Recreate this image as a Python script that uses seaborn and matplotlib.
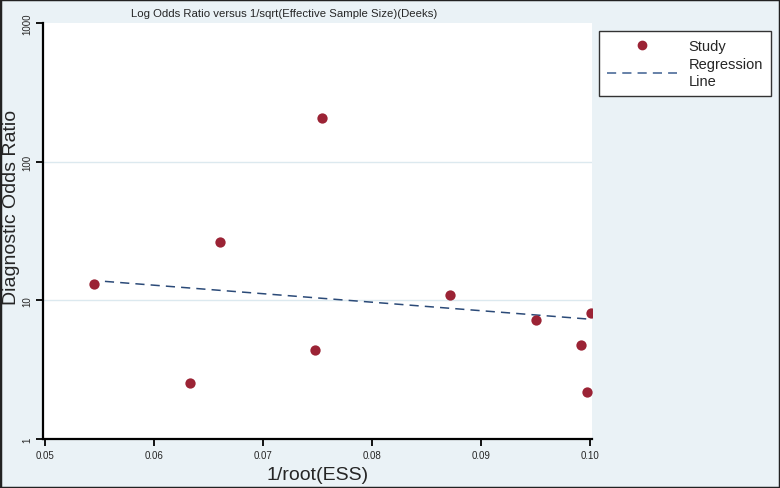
import matplotlib
matplotlib.use("Agg")
import matplotlib.pyplot as plt
import seaborn as sns
import pandas as pd
from matplotlib.patches import Rectangle
from matplotlib.lines import Line2D

# data
study_x = [0.0545, 0.0633, 0.0661, 0.0748, 0.0754, 0.0872, 0.0950, 0.0992, 0.0997, 0.1001]
study_dor = [13.1, 2.53, 26.3, 4.38, 206, 10.9, 7.2, 4.76, 2.18, 8.1]
reg_x = [0.0555, 0.1001]
reg_dor = [13.7, 7.3]
x_ticks = [0.05, 0.06, 0.07, 0.08, 0.09, 0.10]
x_tick_labels = ["0.05", "0.06", "0.07", "0.08", "0.09", "0.10"]
y_ticks = [1, 10, 100, 1000]
y_tick_labels = ["1", "10", "100", "1000"]

sns.set_style("white")
plt.rcParams["font.family"] = ["Liberation Sans", "DejaVu Sans"]

bg = "#eaf2f6"
fig = plt.figure(figsize=(7.8, 4.89), dpi=100, facecolor=bg)
ax = fig.add_axes([43/780, 1-440/489, (592-43)/780, (440-24)/489])
ax.set_facecolor("white")

df_s = pd.DataFrame({"x": study_x, "y": study_dor})
df_r = pd.DataFrame({"x": reg_x, "y": reg_dor})

ax.set_yscale("log")
for yv in [10, 100]:
    ax.axhline(yv, color="#dce9ef", lw=1.0, zorder=0)

sns.lineplot(data=df_r, x="x", y="y", ax=ax, color="#2b4a78", lw=1.1,
             linestyle=(0, (6, 4)), zorder=2)
sns.scatterplot(data=df_s, x="x", y="y", ax=ax, color="#9b2335", s=55,
                edgecolor="#9b2335", linewidth=0, zorder=3)

ax.set_xlim(0.04982, 0.10018)
ax.set_ylim(1, 1000)
ax.set_xticks(x_ticks)
ax.set_xticklabels(x_tick_labels, fontsize=7)
ax.set_yticks(y_ticks)
ax.set_yticklabels(y_tick_labels, fontsize=7, rotation=90, va="center")
ax.minorticks_off()
ax.tick_params(axis="both", direction="out", length=5, width=1.3, color="black",
               bottom=True, left=True, pad=3)
for s in ["top", "right"]:
    ax.spines[s].set_visible(False)
for s in ["left", "bottom"]:
    ax.spines[s].set_color("black")
    ax.spines[s].set_linewidth(1.6)

ax.set_xlabel("1/root(ESS)", fontsize=14, labelpad=4)
ax.set_ylabel("Diagnostic Odds Ratio", fontsize=14)
ax.yaxis.label.set_va("center")
ax.yaxis.set_label_coords((12-43)/549, 0.56)

fig.text(284/780, 1-14/489, "Log Odds Ratio versus 1/sqrt(Effective Sample Size)(Deeks)",
         ha="center", va="center", fontsize=8.2)

handles = [
    Line2D([], [], marker="o", color="#9b2335", linestyle="none", markersize=6),
    Line2D([], [], color="#3d5f91", lw=1.1, linestyle=(0, (6, 4))),
]
leg = fig.legend(handles, ["Study", "Regression\nLine"],
                 loc="upper left", bbox_to_anchor=(599/780, 1-32/489),
                 frameon=True, fancybox=False, fontsize=10.5, framealpha=1,
                 handlelength=4.8, handletextpad=0.8, borderpad=0.55,
                 labelspacing=0.3, borderaxespad=0)
leg.get_frame().set_edgecolor("#333333")
leg.get_frame().set_linewidth(1.0)
leg.get_frame().set_facecolor("white")

fig.patches.append(Rectangle((0, 0), 1, 1, transform=fig.transFigure, fill=False,
                             edgecolor="#222222", lw=2.5))

fig.savefig("out.png", dpi=100, facecolor=bg)
